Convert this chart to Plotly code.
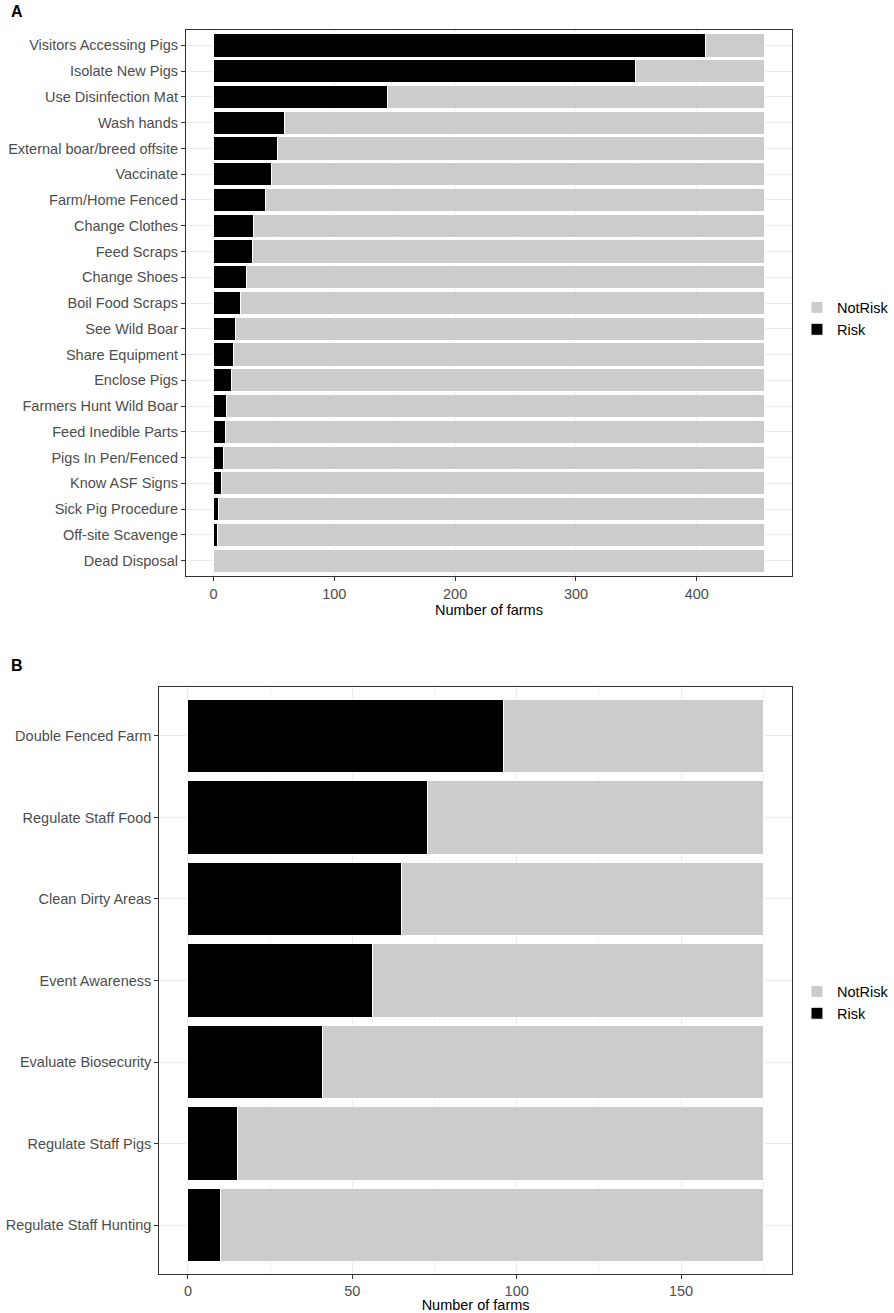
import plotly.graph_objects as go

# panel A: farm-level practices
practices_a = [
    "Visitors Accessing Pigs", "Isolate New Pigs", "Use Disinfection Mat", "Wash hands",
    "External boar/breed offsite", "Vaccinate", "Farm/Home Fenced", "Change Clothes",
    "Feed Scraps", "Change Shoes", "Boil Food Scraps", "See Wild Boar", "Share Equipment",
    "Enclose Pigs", "Farmers Hunt Wild Boar", "Feed Inedible Parts", "Pigs In Pen/Fenced",
    "Know ASF Signs", "Sick Pig Procedure", "Off-site Scavenge", "Dead Disposal",
]
risk_a = [407, 349, 144, 59, 53, 48, 43, 33, 32, 27, 22, 18, 17, 15, 11, 10, 8, 7, 4, 3, 0]
notrisk_a = [49, 107, 312, 397, 403, 408, 413, 423, 424, 429, 434, 438, 439, 441, 445, 446,
             448, 449, 452, 453, 456]

# panel B: commercial farm practices
practices_b = [
    "Double Fenced Farm", "Regulate Staff Food", "Clean Dirty Areas", "Event Awareness",
    "Evaluate Biosecurity", "Regulate Staff Pigs", "Regulate Staff Hunting",
]
risk_b = [96, 73, 65, 56, 41, 15, 10]
notrisk_b = [79, 102, 110, 119, 134, 160, 165]

W, H = 894, 1313
FONT = "Liberation Sans, Arial, sans-serif"
FS = 14.5
RISK_COL = "black"
NOTRISK_COL = "#cccccc"

fig = go.Figure()

for cats, risk, notrisk, xa, ya, lg in [
    (practices_a, risk_a, notrisk_a, "x", "y", "legend"),
    (practices_b, risk_b, notrisk_b, "x2", "y2", "legend2"),
]:
    fig.add_trace(go.Bar(
        y=cats, x=risk, orientation="h", name="Risk", xaxis=xa, yaxis=ya, legend=lg,
        marker=dict(color=RISK_COL, line=dict(color="white", width=1)),
    ))
    fig.add_trace(go.Bar(
        y=cats, x=notrisk, orientation="h", name="NotRisk", xaxis=xa, yaxis=ya, legend=lg,
        marker=dict(color=NOTRISK_COL, line=dict(color="white", width=1)),
    ))


def px_x(p):
    return p / W


def px_y(p):
    return 1 - p / H


axis_common = dict(
    showline=True, mirror=True, linecolor="#333333", linewidth=1,
    ticks="outside", ticklen=4, tickcolor="#333333",
    tickfont=dict(family=FONT, size=FS, color="#4d4d4d"),
    showgrid=True, gridcolor="#ebebeb", gridwidth=1, zeroline=False,
)

n_a, n_b = len(practices_a), len(practices_b)

fig.update_layout(
    width=W, height=H,
    margin=dict(l=0, r=0, t=0, b=0),
    plot_bgcolor="white", paper_bgcolor="white",
    barmode="stack", bargap=0.1,
    font=dict(family=FONT, color="black"),
    xaxis=dict(
        axis_common, anchor="y", domain=[px_x(188), px_x(801)],
        range=[-22.8, 478.8], dtick=100,
        minor=dict(dtick=50, showgrid=True, gridcolor="#f4f4f4", ticks=""),
        title=dict(text="Number of farms", font=dict(size=FS, color="black"), standoff=2),
    ),
    yaxis=dict(
        axis_common, anchor="x", domain=[px_y(577), px_y(30)],
        categoryorder="array", categoryarray=practices_a,
        range=[n_a - 0.4, -0.6],
    ),
    xaxis2=dict(
        axis_common, anchor="y2", domain=[px_x(161), px_x(801)],
        range=[-8.75, 183.75], dtick=50,
        minor=dict(dtick=25, showgrid=True, gridcolor="#f4f4f4", ticks=""),
        title=dict(text="Number of farms", font=dict(size=FS, color="black"), standoff=3),
    ),
    yaxis2=dict(
        axis_common, anchor="x2", domain=[px_y(1276), px_y(688)],
        categoryorder="array", categoryarray=practices_b,
        range=[n_b - 0.4, -0.6],
    ),
    legend=dict(
        x=px_x(806), y=px_y(319), xanchor="left", yanchor="middle",
        traceorder="reversed", font=dict(size=FS, color="black"),
        bgcolor="rgba(0,0,0,0)", tracegroupgap=0,
    ),
    legend2=dict(
        x=px_x(806), y=px_y(1004), xanchor="left", yanchor="middle",
        traceorder="reversed", font=dict(size=FS, color="black"),
        bgcolor="rgba(0,0,0,0)", tracegroupgap=0,
    ),
    annotations=[
        dict(text="<b>A</b>", x=px_x(9), y=px_y(12), xref="paper", yref="paper",
             xanchor="left", yanchor="middle", showarrow=False,
             font=dict(size=16, color="black")),
        dict(text="<b>B</b>", x=px_x(9), y=px_y(667), xref="paper", yref="paper",
             xanchor="left", yanchor="middle", showarrow=False,
             font=dict(size=16, color="black")),
    ],
)

# drop the default body margin so the figure fills the window exactly
fig.write_html(
    "out.html",
    config={"displayModeBar": False},
    post_script="document.documentElement.style.overflow='hidden';"
                "document.body.style.margin='0';document.body.style.overflow='hidden';",
)
